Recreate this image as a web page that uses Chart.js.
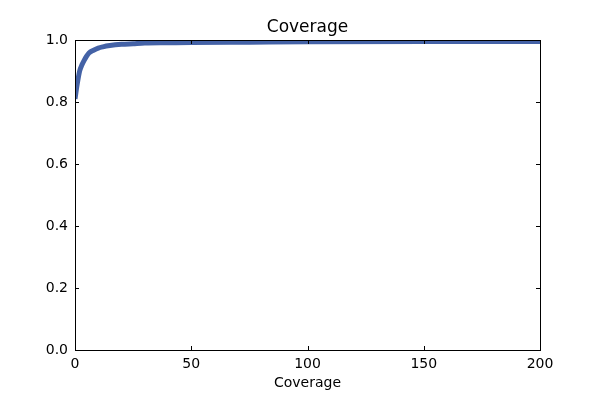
<!DOCTYPE html>
<html>
<head>
<meta charset="utf-8">
<script src="https://cdn.jsdelivr.net/npm/chart.js@4"></script>
<style>
  html, body { margin: 0; padding: 0; background: #fff; }
  #wrap { width: 600px; height: 400px; }
</style>
</head>
<body>
<div id="wrap"><canvas id="coverageChart" width="600" height="400"></canvas></div>
<script>
// values
const coverageX = [0, 1, 2, 3, 4, 5, 6, 8, 10, 12, 15, 20, 25, 30, 40, 50, 75, 100, 150, 200];
const fractionY = [0.81, 0.86, 0.90, 0.92, 0.935, 0.948, 0.958, 0.967, 0.974, 0.978, 0.982, 0.986, 0.988, 0.990, 0.991, 0.992, 0.993, 0.994, 0.995, 0.995];
const xTicks = [0, 50, 100, 150, 200];
const yTicks = [0.0, 0.2, 0.4, 0.6, 0.8, 1.0];

const points = coverageX.map((x, i) => ({ x: x, y: fractionY[i] }));

// matplotlib-style frame with inward ticks on all four sides
const framePlugin = {
    id: 'frame',
    afterDraw: (chart) => {
        const ctx = chart.ctx;
        const a = chart.chartArea;
        const xs = chart.scales.x;
        const ys = chart.scales.y;
        const len = 4;
        ctx.save();
        ctx.strokeStyle = '#000';
        ctx.lineWidth = 1;
        ctx.beginPath();
        xTicks.forEach(v => {
            const px = Math.round(xs.getPixelForValue(v)) + 0.5;
            ctx.moveTo(px, a.bottom); ctx.lineTo(px, a.bottom - len);
            ctx.moveTo(px, a.top); ctx.lineTo(px, a.top + len);
        });
        yTicks.forEach(v => {
            const py = Math.round(ys.getPixelForValue(v)) + 0.5;
            ctx.moveTo(a.left, py); ctx.lineTo(a.left + len, py);
            ctx.moveTo(a.right, py); ctx.lineTo(a.right - len, py);
        });
        ctx.stroke();
        ctx.strokeRect(Math.round(a.left) + 0.5, Math.round(a.top) + 0.5,
            Math.round(a.right - a.left), Math.round(a.bottom - a.top));
        ctx.restore();
    }
};

const ctx = document.getElementById('coverageChart').getContext('2d');
new Chart(ctx, {
    type: 'scatter',
    data: {
        datasets: [{
            data: points,
            showLine: true,
            borderColor: '#4462a6',
            borderWidth: 5,
            pointRadius: 0,
            cubicInterpolationMode: 'monotone',
            fill: false
        }]
    },
    options: {
        responsive: false,
        animation: false,
        devicePixelRatio: 1,
        layout: { padding: { left: 0, right: 60, top: 0, bottom: 0 } },
        scales: {
            x: {
                type: 'linear',
                min: 0,
                max: 200,
                afterFit: (s) => { s.height = 50; },
                afterBuildTicks: (s) => { s.ticks = xTicks.map(v => ({ value: v })); },
                grid: { display: false, drawTicks: false },
                border: { display: false },
                ticks: {
                    padding: 6,
                    color: '#000',
                    font: { family: 'DejaVu Sans', size: 14 }
                },
                title: {
                    display: true,
                    text: 'Coverage',
                    color: '#000',
                    padding: { top: 1, bottom: 8 },
                    font: { family: 'DejaVu Sans', size: 14 }
                }
            },
            y: {
                type: 'linear',
                min: 0,
                max: 1,
                afterFit: (s) => { s.width = 75; },
                afterBuildTicks: (s) => { s.ticks = yTicks.map(v => ({ value: v })); },
                grid: { display: false, drawTicks: false },
                border: { display: false },
                ticks: {
                    padding: 7,
                    color: '#000',
                    font: { family: 'DejaVu Sans', size: 14 },
                    callback: (v) => Number(v).toFixed(1)
                }
            }
        },
        plugins: {
            legend: { display: false },
            tooltip: { enabled: false },
            title: {
                display: true,
                fullSize: false,
                text: 'Coverage',
                color: '#000',
                padding: { top: 17, bottom: 2.6 },
                font: { family: 'DejaVu Sans', size: 17, weight: 'normal' }
            }
        }
    },
    plugins: [framePlugin]
});
</script>
</body>
</html>
